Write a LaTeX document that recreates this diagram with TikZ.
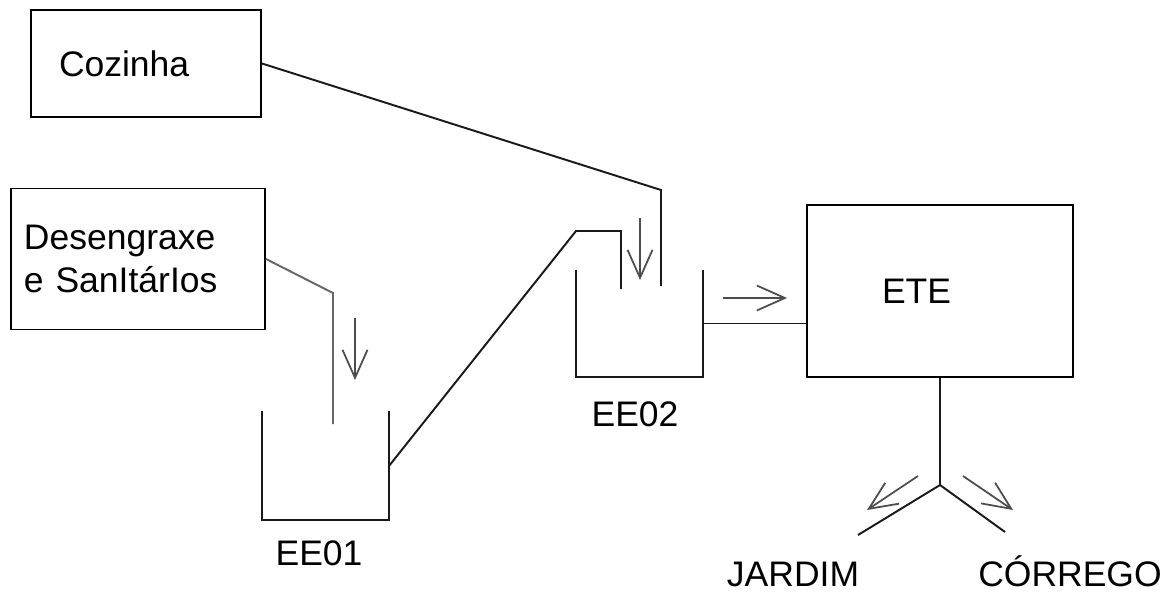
\documentclass[tikz,border=0pt]{standalone}
\usepackage{fontspec}
\setmainfont{Liberation Sans}
\usetikzlibrary{positioning,arrows.meta}

\begin{document}
\begin{tikzpicture}[>={Straight Barb[length=0.56cm,width=0.5cm]},
  every node/.style={font=\fontsize{20.2}{24.5}\selectfont},
  box/.style={draw, line width=1.1pt, align=left, inner ysep=0pt},
  tank/.style={minimum width=2.54cm, inner sep=0pt},
  pipe/.style={line width=1.1pt, black!90},
  flow/.style={->, line width=1pt, black!70}]
  \useasboundingbox (0,0) rectangle (23.48,-11.86);
  \node[box, minimum width=4.6cm, minimum height=2.14cm, inner xsep=0.56cm, text width=3.48cm] (coz) at (2.92,-1.27) {Cozinha};
  \node[box, minimum width=5.08cm, minimum height=2.82cm, inner xsep=0.26cm, text width=4.56cm] (des) at (2.76,-5.18) {Desengraxe\\e SanItárIos};
  \node[tank, minimum height=2.18cm] (ee1) at (6.51,-9.31) {};
  \node[tank, minimum height=2.14cm] (ee2) at (12.79,-6.47) {};
  \node[box, minimum width=5.32cm, minimum height=3.44cm, inner xsep=1.5cm, text width=2.32cm] (ete) at (18.80,-5.82) {ETE};
  \draw[pipe] (ee1.north west) |- (ee1.south east) -- (ee1.north east);
  \draw[pipe] (ee2.north west) |- (ee2.south east) -- (ee2.north east);
  \node (lee1) at (6.38,-11.06) {EE01};
  \node (lee2) at (12.70,-8.28) {EE02};
  \node[inner sep=1pt] (jar) at (15.86,-11.48) {JARDIM};
  \node (cor) at (21.40,-11.42) {CÓRREGO};
  \coordinate (drop1) at (6.66,-8.48);
  \coordinate (drop2) at (13.22,-5.72);
  \coordinate (drop3) at (12.42,-5.78);
  \coordinate (split) at (18.80,-9.70);
  \draw[pipe, black!60] (des.east) -- (6.66,-5.86) -- (drop1);
  \draw[pipe] (coz.east) -- (13.22,-3.80) -- (drop2);
  \draw[pipe] (ee1.east) -- (11.52,-4.62) -- (12.42,-4.62) -- (drop3);
  \draw[pipe] (ee2.east) -- (ee2.east -| ete.west);
  \draw[pipe] (ete.south) -- (split);
  \draw[pipe] (split) -- (17.16,-10.70);
  \draw[pipe] (split) -- (20.10,-10.64);
  \draw[flow] (7.10,-6.36) -- (7.10,-7.60);
  \draw[flow] (12.80,-4.36) -- (12.80,-5.60);
  \draw[flow] (14.46,-5.96) -- (15.74,-5.96);
  \draw[flow] (18.36,-9.52) -- (17.34,-10.20);
  \draw[flow] (19.26,-9.52) -- (20.26,-10.20);
\end{tikzpicture}
\end{document}
